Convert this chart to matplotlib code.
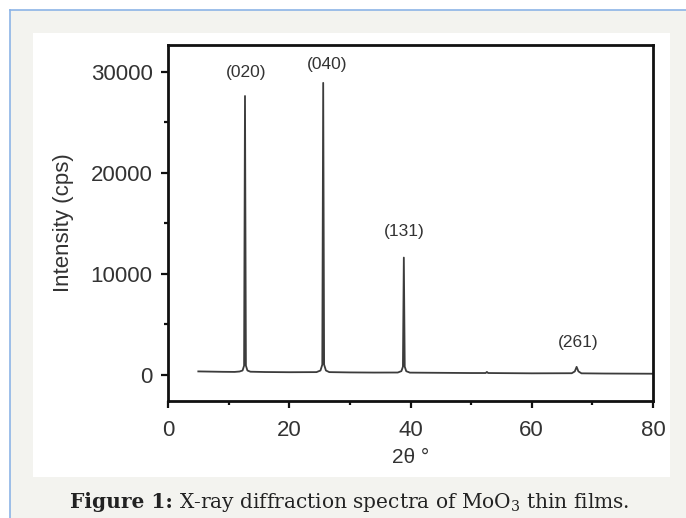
import matplotlib
matplotlib.use("Agg")
import matplotlib.pyplot as plt
from matplotlib.patches import Rectangle
from matplotlib.lines import Line2D
from matplotlib.ticker import MultipleLocator

plt.rcParams['font.family'] = ['Liberation Sans', 'DejaVu Sans']
plt.rcParams['mathtext.fontset'] = 'dejavuserif'

# XRD scan (2theta in degrees, intensity in cps)
two_theta = [5.0, 7.0, 9.0, 11.0, 11.8, 12.3, 12.55, 12.7, 12.85, 13.1, 13.6,
             16.0, 20.0, 24.5, 25.15, 25.45, 25.6, 25.75, 26.05, 26.6,
             30.0, 34.0, 37.9, 38.5, 38.75, 38.9, 39.05, 39.3, 39.9,
             45.0, 50.0, 52.4, 52.6, 52.8, 55.0, 60.0, 66.6, 67.1, 67.4,
             67.7, 68.2, 72.0, 76.0, 80.0]
intensity = [330, 310, 290, 280, 320, 420, 900, 27600, 900, 420, 300,
             270, 250, 260, 420, 1000, 28900, 1000, 420, 260,
             230, 215, 220, 360, 800, 11600, 800, 350, 210,
             190, 170, 170, 280, 170, 160, 140, 150, 330, 780,
             330, 140, 120, 110, 100]

peak_labels = ['(020)', '(040)', '(131)', '(261)']
label_x = [12.9, 26.3, 38.9, 67.6]
label_y = [29900, 30700, 14150, 3200]

fig = plt.figure(figsize=(6.86, 5.18), dpi=100)
fig.patch.set_facecolor('white')

W, H = 686, 518
# page background, blue rule and white panel
fig.add_artist(Rectangle((10 / W, 0), 1 - 10 / W, 1 - 10 / H, transform=fig.transFigure,
                         facecolor='#f3f3ef', edgecolor='none', zorder=-3))
fig.add_artist(Line2D([10 / W, 1], [1 - 10 / H, 1 - 10 / H], transform=fig.transFigure,
                      color='#8cb4e6', lw=1.2, zorder=-2))
fig.add_artist(Line2D([10 / W, 10 / W], [0, 1 - 10 / H], transform=fig.transFigure,
                      color='#8cb4e6', lw=1.2, zorder=-2))
fig.add_artist(Rectangle((33 / W, 1 - 477 / H), (670 - 33) / W, (477 - 33) / H,
                         transform=fig.transFigure, facecolor='white', edgecolor='none', zorder=-1))

ax = fig.add_axes([168 / W, 1 - 401 / H, (653 - 168) / W, (401 - 45) / H])
ax.set_facecolor('white')
ax.plot(two_theta, intensity, color='#3c3c3c', lw=1.3)

for lab, x, y in zip(peak_labels, label_x, label_y):
    ax.text(x, y, lab, ha='center', va='center', fontsize=12.5, color='#333333')

ax.set_xlim(0, 80)
ax.set_ylim(-2600, 32650)
ax.xaxis.set_major_locator(MultipleLocator(20))
ax.xaxis.set_minor_locator(MultipleLocator(10))
ax.yaxis.set_major_locator(MultipleLocator(10000))
ax.yaxis.set_minor_locator(MultipleLocator(5000))

for s in ax.spines.values():
    s.set_linewidth(2.0)
    s.set_color('#111111')
ax.tick_params(which='major', direction='out', length=5, width=1.6, labelsize=16,
               colors='#111111', labelcolor='#333333', top=False, right=False)
ax.tick_params(which='minor', direction='out', length=3, width=1.6,
               colors='#111111', top=False, right=False)
ax.tick_params(axis='x', which='major', pad=9)
ax.tick_params(axis='y', which='major', pad=6)

ax.set_xlabel('2θ °', fontsize=15, color='#333333', labelpad=5)
ax.set_ylabel('Intensity (cps)', fontsize=16, color='#333333', labelpad=12)

# caption: bold lead, then plain text right after it
cap_y = 1 - 502 / H
lead = fig.text(70 / W, cap_y, 'Figure 1:', ha='left', va='center', fontsize=14.5,
                family='DejaVu Serif', weight='bold', color='#222222')
renderer = fig.canvas.get_renderer()
lead_w = lead.get_window_extent(renderer).width
fig.text((70 + lead_w + 6) / W, cap_y,
         'X-ray diffraction spectra of MoO$_3$ thin films.',
         ha='left', va='center', fontsize=14.5, family='DejaVu Serif', color='#222222')

fig.savefig('out.png', dpi=100, facecolor=fig.get_facecolor())
